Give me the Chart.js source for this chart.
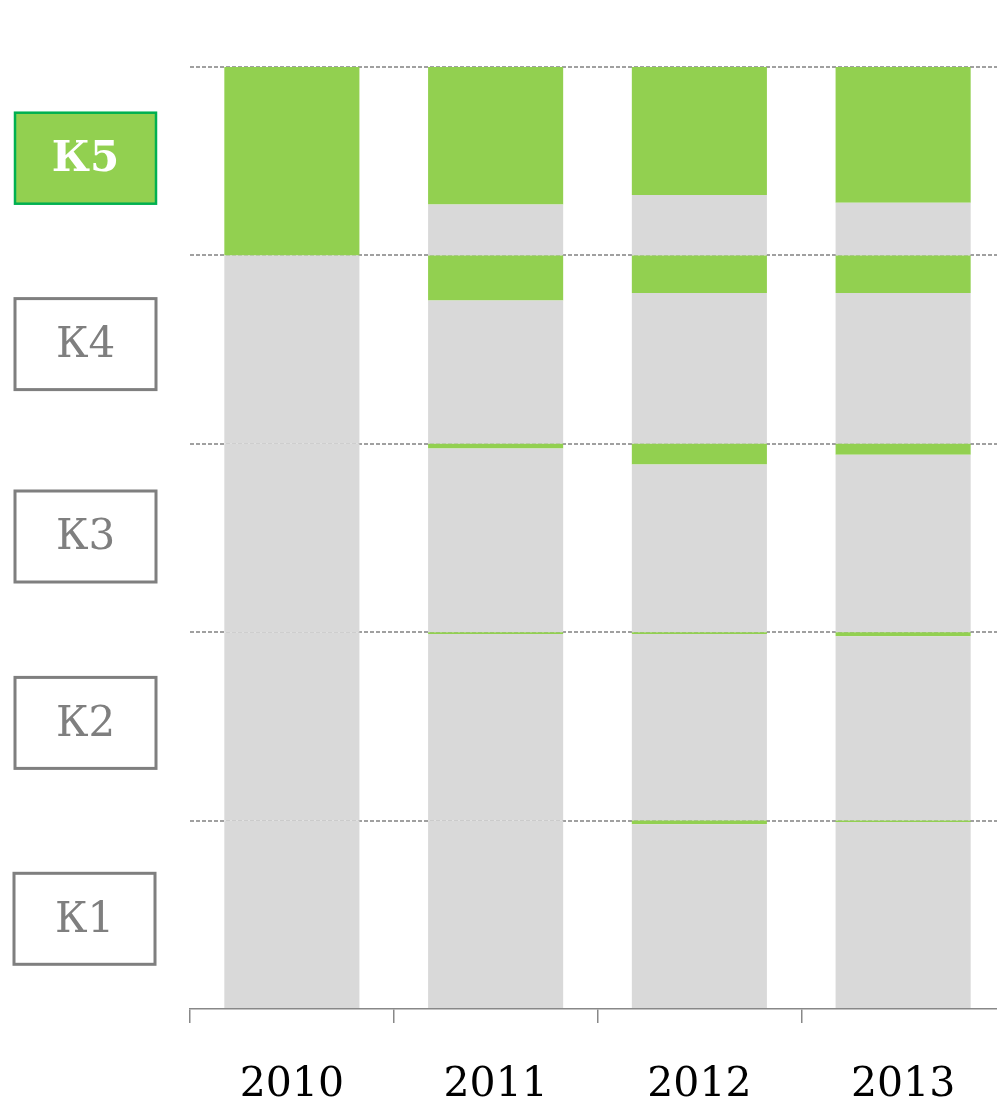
<!DOCTYPE html>
<html>
<head>
<meta charset="utf-8">
<script src="https://cdn.jsdelivr.net/npm/chart.js@4/dist/chart.umd.min.js"></script>
<style>
html,body{margin:0;padding:0;overflow:hidden;background:#fff;width:997px;height:1099px;}
#wrap{position:relative;width:1008px;height:1099px;}
</style>
</head>
<body>
<div id="wrap"><canvas id="c"></canvas></div>
<script>
// Categories
const years = ['2010', '2011', '2012', '2013'];
// Band labels (bottom to top)
const bands = ['К1', 'К2', 'К3', 'К4', 'К5'];
// Share of each band (out of 100) — green (upper part) and grey (lower part)
const k1Grey  = [100, 100, 98, 99.2];
const k1Green = [0, 0, 2, 0.8];
const k2Grey  = [100, 99, 99, 97.8];
const k2Green = [0, 1, 1, 2.2];
const k3Grey  = [100, 97.5, 89, 94.2];
const k3Green = [0, 2.5, 11, 5.8];
const k4Grey  = [100, 76, 80, 80];
const k4Green = [0, 24, 20, 20];
const k5Grey  = [0, 27, 32, 28];
const k5Green = [100, 73, 68, 72];

const GREEN = '#92D050', GREY = '#D9D9D9';
const series = [
  ['К1 grey', k1Grey, GREY], ['К1 green', k1Green, GREEN],
  ['К2 grey', k2Grey, GREY], ['К2 green', k2Green, GREEN],
  ['К3 grey', k3Grey, GREY], ['К3 green', k3Green, GREEN],
  ['К4 grey', k4Grey, GREY], ['К4 green', k4Green, GREEN],
  ['К5 grey', k5Grey, GREY], ['К5 green', k5Green, GREEN]
];

const FONT = '"DejaVu Serif", "Liberation Serif", serif';

const bandLabels = {
  id: 'bandLabels',
  afterDraw(chart) {
    const ctx = chart.ctx;
    const y = chart.scales.y;
    const nudge = [4, -3.5, -1.5, -5.5, -3];
    ctx.save();
    bands.forEach((b, i) => {
      const cy = y.getPixelForValue(i * 100 + 50) + nudge[i];
      const x = i === 0 ? 14 : 15, w = 141, h = 91;
      const top = cy - h / 2;
      const active = i === bands.length - 1;
      ctx.lineWidth = active ? 2.5 : 3;
      ctx.fillStyle = active ? GREEN : '#FFFFFF';
      ctx.strokeStyle = active ? '#00B050' : '#7F7F7F';
      ctx.fillRect(x, top, w, h);
      ctx.strokeRect(x, top, w, h);
      ctx.fillStyle = active ? '#FFFFFF' : '#7F7F7F';
      ctx.font = (active ? 'bold ' : '') + '42px ' + FONT;
      ctx.textAlign = 'center';
      ctx.textBaseline = 'middle';
      ctx.fillText(b, x + w / 2, cy + 2);
    });
    ctx.restore();
  }
};

new Chart(document.getElementById('c'), {
  type: 'bar',
  data: {
    labels: years,
    datasets: series.map(s => ({
      label: s[0], data: s[1], backgroundColor: s[2], borderWidth: 0,
      categoryPercentage: 1, barPercentage: 0.663, stack: 's'
    }))
  },
  options: {
    responsive: true,
    maintainAspectRatio: false,
    animation: false,
    layout: { padding: { left: 190, top: 67, right: 3, bottom: 0 } },
    plugins: { legend: { display: false }, tooltip: { enabled: false } },
    scales: {
      x: {
        stacked: true,
        afterFit(s) { s.height = 90; },
        grid: { offset: true, drawOnChartArea: false, drawTicks: true, tickLength: 14, color: '#888888', lineWidth: 1.5 },
        border: { display: true, color: '#888888', width: 1.5 },
        ticks: { color: '#000000', font: { family: FONT, size: 41 }, padding: 38 }
      },
      y: {
        stacked: true,
        min: 0, max: 500,
        afterFit(s) { s.width = 0; },
        ticks: { display: false, stepSize: 100 },
        border: { display: false, dash: [4, 2] },
        grid: {
          drawTicks: false,
          color: ctx => ctx.tick && ctx.tick.value === 0 ? 'rgba(0,0,0,0)' : '#A0A0A0',
          lineWidth: 2
        }
      }
    }
  },
  plugins: [bandLabels]
});
</script>
</body>
</html>
